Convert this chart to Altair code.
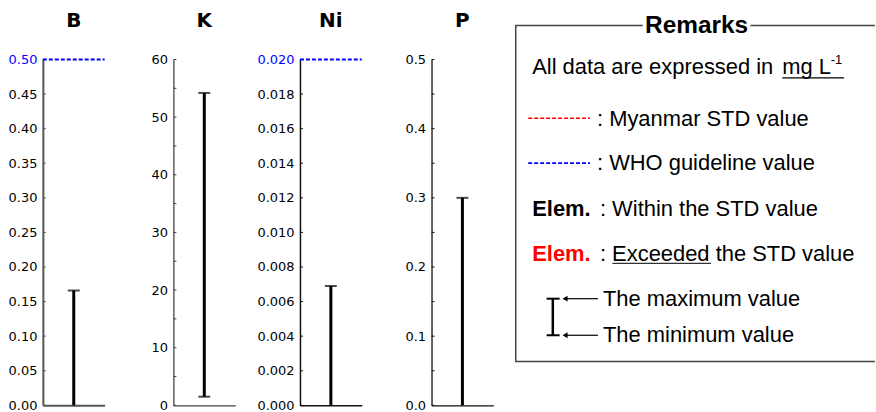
import altair as alt
import pandas as pd

# ---------------- data ----------------
elements = ["B", "K", "Ni", "P"]
min_values = [0.0, 1.5, 0.0, 0.0]
max_values = [0.166, 54.2, 0.0069, 0.30]
who_values = [0.50, None, 0.020, None]
axis_max = [0.50, 60, 0.020, 0.5]
label_values = [
    [0.00, 0.05, 0.10, 0.15, 0.20, 0.25, 0.30, 0.35, 0.40, 0.45, 0.50],
    [0, 10, 20, 30, 40, 50, 60],
    [0.000, 0.002, 0.004, 0.006, 0.008, 0.010, 0.012, 0.014, 0.016, 0.018, 0.020],
    [0.0, 0.1, 0.2, 0.3, 0.4, 0.5],
]
tick_values = [
    [0.00, 0.05, 0.10, 0.15, 0.20, 0.25, 0.30, 0.35, 0.40, 0.45, 0.50],
    [0, 5, 10, 15, 20, 25, 30, 35, 40, 45, 50, 55, 60],
    [0.000, 0.002, 0.004, 0.006, 0.008, 0.010, 0.012, 0.014, 0.016, 0.018, 0.020],
    [0.0, 0.05, 0.1, 0.15, 0.2, 0.25, 0.3, 0.35, 0.4, 0.45, 0.5],
]
label_formats = [".2f", "d", ".3f", ".1f"]

remarks_title = "Remarks"
unit_text = "All data are expressed in"
unit_under = "mg L"
unit_sup = "-1"
legend_texts = [": Myanmar STD value", ": WHO guideline value"]
elem_label = "Elem."
elem_texts = [": Within the STD value", ": Exceeded the STD value"]
range_texts = ["The maximum value", "The minimum value"]

# ---------------- layout / style ----------------
PANEL_W = 62
PANEL_H = 347
axis_extent = [43, 68, 65, 69]
axis_color = ["#555555", "#444444", "#111111", "#111111"]
axis_width = [2.0, 1.3, 1.5, 1.3]
TICK_FONT = "DejaVu Sans"
TEXT_FONT = "Liberation Sans"
RED = "#ff0000"
BLUE = "#0000ff"

OX = 431  # absolute x of the P panel's plot origin
OY = 59   # absolute y of plot tops


def one(s):
    return pd.DataFrame({"s": [s]})


def txt(s, x, y, size=22, weight="normal", color="black", align="left",
        baseline="alphabetic", font=TEXT_FONT):
    return alt.Chart(one(s)).mark_text(
        align=align, baseline=baseline, font=font, fontSize=size,
        fontWeight=weight, color=color
    ).encode(text="s:N", x=alt.value(x - OX), y=alt.value(y - OY))


def hline(x1, x2, y, color="black", width=1.0, dash=None):
    kw = dict(color=color, strokeWidth=width)
    if dash:
        kw["strokeDash"] = dash
    return alt.Chart(one("l")).mark_rule(**kw).encode(
        x=alt.value(x1 - OX), x2=alt.value(x2 - OX), y=alt.value(y - OY))


def vline(x, y1, y2, color="black", width=1.0):
    return alt.Chart(one("l")).mark_rule(color=color, strokeWidth=width).encode(
        x=alt.value(x - OX), y=alt.value(y1 - OY), y2=alt.value(y2 - OY))


def arrow_head(x, y):
    return alt.Chart(one("a")).mark_point(
        shape="triangle-left", filled=True, size=34, color="black", opacity=1
    ).encode(x=alt.value(x - OX), y=alt.value(y - OY))


def remarks_layers():
    box_c = "#444444"
    L = []
    L.append(hline(515, 643, 25, box_c, 1.5))
    L.append(hline(751, 876, 25, box_c, 1.5))
    L.append(vline(515.5, 25, 362, box_c, 1.5))
    L.append(hline(515, 876, 362, box_c, 1.5))
    L.append(txt(remarks_title, 697, 32, size=24.5, weight="bold", align="center"))
    L.append(txt(unit_text, 532, 74))
    L.append(txt(unit_under, 783, 74))
    L.append(txt(unit_sup, 831.5, 64, size=13))
    L.append(hline(783, 845, 77.5, "black", 1.2))
    L.append(hline(528, 590, 118, RED, 1.6, [4, 2]))
    L.append(txt(legend_texts[0], 597, 126))
    L.append(hline(528, 590, 163, BLUE, 1.6, [4, 2]))
    L.append(txt(legend_texts[1], 597, 170))
    L.append(txt(elem_label, 532, 216, weight="bold"))
    L.append(txt(elem_texts[0], 600, 216))
    L.append(txt(elem_label, 532, 261, weight="bold", color=RED))
    L.append(txt(elem_texts[1], 600, 261))
    L.append(hline(612.5, 711.5, 263.5, "#333333", 1.2))
    L.append(vline(552.7, 299, 335.7, "black", 2.5))
    L.append(hline(546.5, 559.5, 299, "black", 2))
    L.append(hline(546.5, 559.5, 335.7, "black", 2))
    L.append(hline(566, 598, 299, "black", 1.2))
    L.append(hline(566, 598, 335.7, "black", 1.2))
    L.append(arrow_head(565, 299))
    L.append(arrow_head(565, 335.7))
    L.append(txt(range_texts[0], 603, 306))
    L.append(txt(range_texts[1], 603, 342))
    return L


def panel(i):
    el = elements[i]
    df = pd.DataFrame({"element": [el], "lo": [min_values[i]], "hi": [max_values[i]]})
    yscale = alt.Scale(domain=[0, axis_max[i]], nice=False, zero=True)
    hl = axis_max[i] * 0.999
    if who_values[i] is not None:
        lab_col = {"condition": {"test": f"datum.value >= {hl}", "value": BLUE},
                   "value": "black"}
    else:
        lab_col = "black"
    yaxis = alt.Axis(
        values=label_values[i], format=label_formats[i], ticks=False, grid=False,
        domainColor=axis_color[i], domainWidth=axis_width[i],
        labelFont=TICK_FONT, labelFontSize=13, labelColor=lab_col,
        labelPadding=6, minExtent=axis_extent[i], maxExtent=axis_extent[i],
        title=None,
    )
    xaxis = alt.Axis(labels=False, ticks=False, grid=False, domain=True,
                     domainColor=axis_color[i], domainWidth=axis_width[i], title=None)
    xenc = alt.X("element:N", axis=xaxis, scale=alt.Scale(paddingInner=0, paddingOuter=0))

    base = alt.Chart(df)
    bar = base.mark_rule(color="black", strokeWidth=3).encode(
        x=xenc, y=alt.Y("lo:Q", scale=yscale, axis=yaxis), y2="hi:Q")
    caps = base.transform_fold(["lo", "hi"], as_=["k", "v"]).transform_filter(
        "datum.v > 0").mark_tick(color="black", size=12, thickness=2).encode(
        x=xenc, y=alt.Y("v:Q", scale=yscale, axis=yaxis))
    ticks = alt.Chart(pd.DataFrame({"t": tick_values[i]})).mark_rule(
        color=axis_color[i], strokeWidth=1).encode(
        y=alt.Y("t:Q", scale=yscale, axis=yaxis), x=alt.value(0), x2=alt.value(3))
    title = base.mark_text(font=TICK_FONT, fontSize=20, fontWeight="bold",
                           baseline="middle", color="black").encode(
        x=xenc, y=alt.value(-39), text="element:N")
    layers = [bar, caps, ticks, title]
    if who_values[i] is not None:
        who = alt.Chart(pd.DataFrame({"w": [who_values[i]]})).mark_rule(
            color=BLUE, strokeWidth=2, strokeDash=[4, 2]).encode(
            y=alt.Y("w:Q", scale=yscale, axis=yaxis), x=alt.value(0), x2=alt.value("width"))
        layers.append(who)
    if i == len(elements) - 1:
        layers += remarks_layers()
    return alt.layer(*layers).properties(width=PANEL_W, height=PANEL_H)


chart = alt.hconcat(*[panel(i) for i in range(len(elements))], spacing=0).properties(
    padding={"left": 0, "top": 10, "right": 0, "bottom": 0}
).configure_view(stroke=None)

chart.save("out.html", embed_options={"renderer": "svg", "actions": False})
